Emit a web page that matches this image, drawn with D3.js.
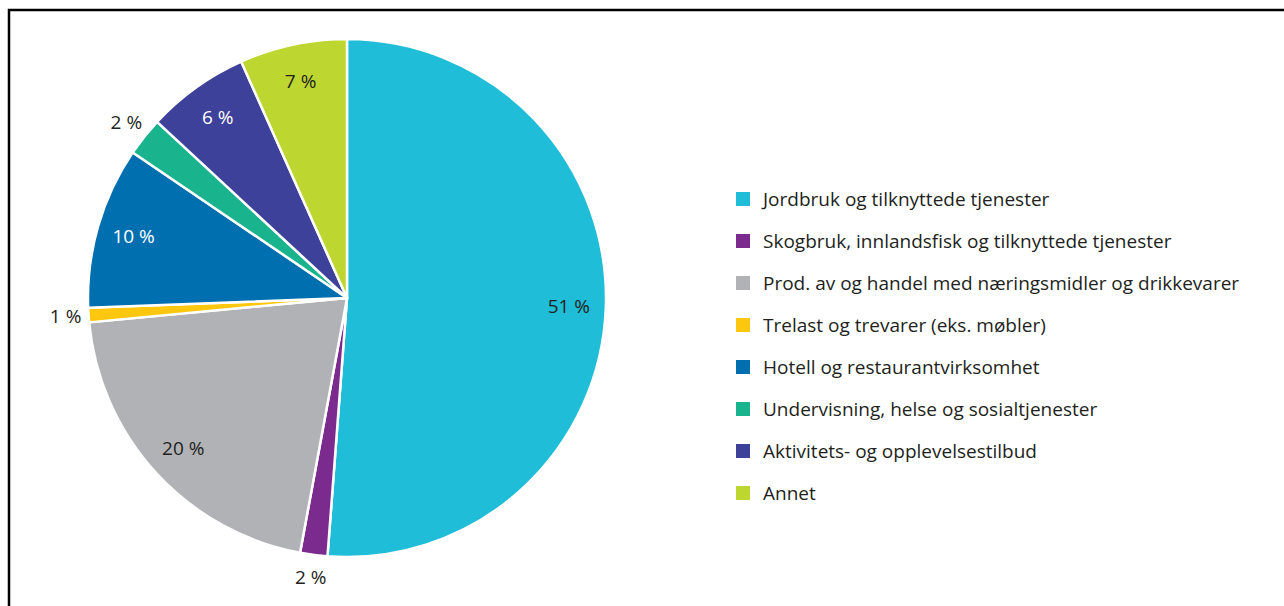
<!DOCTYPE html>
<html>
<head>
<meta charset="utf-8">
<script src="https://cdn.jsdelivr.net/npm/d3@7"></script>
<style>
    body { margin: 0; background: #fff; }
    svg { display: block; font-family: "Open Sans", sans-serif; }
</style>
</head>
<body>
<div id="chart"></div>
<script>
// Share of enterprises by industry (percent), clockwise from 12 o'clock
const categories = [
    'Jordbruk og tilknyttede tjenester',
    'Skogbruk, innlandsfisk og tilknyttede tjenester',
    'Prod. av og handel med næringsmidler og drikkevarer',
    'Trelast og trevarer (eks. møbler)',
    'Hotell og restaurantvirksomhet',
    'Undervisning, helse og sosialtjenester',
    'Aktivitets- og opplevelsestilbud',
    'Annet'
];
const values = [51.2, 1.7, 20.6, 0.9, 10.1, 2.4, 6.4, 6.7];
const valueLabels = ['51 %', '2 %', '20 %', '1 %', '10 %', '2 %', '6 %', '7 %'];
const colors = ['#1fbdd8', '#7b2a8e', '#b1b2b6', '#fdc70f', '#006faf', '#19b38d', '#3e4199', '#bed730'];
// labels for thin slices are drawn outside the pie
const labelOutside = [false, true, false, true, false, true, false, false];
const labelDark = [true, true, true, true, false, true, false, true];

const width = 1284;
const height = 606;
const cx = 347, cy = 298, radius = 259;

const svg = d3.select('#chart')
    .append('svg')
    .attr('width', width)
    .attr('height', height);

// frame (only top and left edges show in the picture)
svg.append('rect')
    .attr('x', 9)
    .attr('y', 10)
    .attr('width', width + 20)
    .attr('height', height + 20)
    .attr('fill', 'none')
    .attr('stroke', '#000')
    .attr('stroke-width', 2.5);

const pie = d3.pie().sort(null).value((d) => d);
const arcs = pie(values);

const arc = d3.arc().innerRadius(0).outerRadius(radius);
const inLabel = d3.arc().innerRadius(222).outerRadius(222);
const outLabel = d3.arc().innerRadius(282).outerRadius(282);

const g = svg.append('g').attr('transform', `translate(${cx},${cy})`);

g.selectAll('path')
    .data(arcs)
    .enter()
    .append('path')
    .attr('d', arc)
    .attr('fill', (d, i) => colors[i])
    .attr('stroke', '#fff')
    .attr('stroke-width', 2.5)
    .attr('stroke-linejoin', 'round');

g.selectAll('text.val')
    .data(arcs)
    .enter()
    .append('text')
    .attr('class', 'val')
    .attr('transform', (d, i) => `translate(${(labelOutside[i] ? outLabel : inLabel).centroid(d)})`)
    .attr('text-anchor', 'middle')
    .attr('dy', '0.35em')
    .attr('font-size', 19)
    .attr('fill', (d, i) => (labelDark[i] ? '#231f20' : '#fff'))
    .text((d, i) => valueLabels[i]);

// legend
const legend = svg.append('g').attr('transform', 'translate(736,199)');
const rowGap = 42;

legend.selectAll('rect')
    .data(categories)
    .enter()
    .append('rect')
    .attr('x', 0)
    .attr('y', (d, i) => i * rowGap - 7)
    .attr('width', 14)
    .attr('height', 14)
    .attr('fill', (d, i) => colors[i]);

legend.selectAll('text')
    .data(categories)
    .enter()
    .append('text')
    .attr('x', 27)
    .attr('y', (d, i) => i * rowGap)
    .attr('dy', '0.35em')
    .attr('font-size', 19)
    .attr('fill', '#231f20')
    .text((d) => d);
</script>
</body>
</html>
